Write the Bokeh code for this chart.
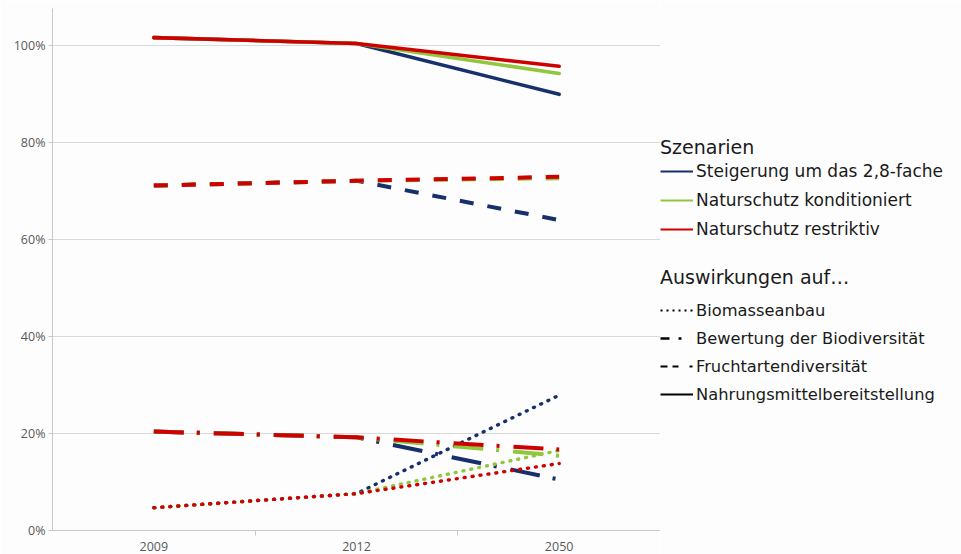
from bokeh.plotting import figure
from bokeh.layouts import row
from bokeh.models import (Range1d, FixedTicker, PrintfTickFormatter, Legend, LegendItem)
from bokeh.embed import file_html
from bokeh.resources import INLINE

# ---- data ----
years = ["2009", "2012", "2050"]
scenarios = ["Steigerung um das 2,8-fache", "Naturschutz konditioniert", "Naturschutz restriktiv"]
scenario_colors = ["#17306b", "#8fc73e", "#cf0000"]
effects = ["Biomasseanbau", "Bewertung der Biodiversität", "Fruchtartendiversität",
           "Nahrungsmittelbereitstellung"]

# values in percent, per scenario [2009, 2012, 2050]
biomasse_steigerung = [4.7, 7.6, 27.9]
biomasse_konditioniert = [4.7, 7.6, 16.5]
biomasse_restriktiv = [4.7, 7.6, 13.8]

biodiv_steigerung = [20.4, 19.2, 10.5]
biodiv_konditioniert = [20.4, 19.2, 15.4]
biodiv_restriktiv = [20.4, 19.2, 16.7]

frucht_steigerung = [71.1, 72.1, 64.0]
frucht_konditioniert = [71.1, 72.1, 72.6]
frucht_restriktiv = [71.1, 72.1, 72.9]

nahrung_steigerung = [101.6, 100.4, 89.9]
nahrung_konditioniert = [101.6, 100.4, 94.2]
nahrung_restriktiv = [101.6, 100.4, 95.7]

y_ticks = [0, 20, 40, 60, 80, 100]

series = {
    "Biomasseanbau": [biomasse_steigerung, biomasse_konditioniert, biomasse_restriktiv],
    "Bewertung der Biodiversität": [biodiv_steigerung, biodiv_konditioniert, biodiv_restriktiv],
    "Fruchtartendiversität": [frucht_steigerung, frucht_konditioniert, frucht_restriktiv],
    "Nahrungsmittelbereitstellung": [nahrung_steigerung, nahrung_konditioniert, nahrung_restriktiv],
}

styles = {
    "Biomasseanbau": dict(line_dash="1 7", line_cap="round", line_width=3.4),
    "Bewertung der Biodiversität": dict(line_dash="30 13 3 14", line_cap="butt", line_width=4),
    "Fruchtartendiversität": dict(line_dash="14 14", line_cap="butt", line_width=4),
    "Nahrungsmittelbereitstellung": dict(line_dash="solid", line_cap="round", line_width=3.6),
}
legend_styles = {
    "Biomasseanbau": dict(line_dash="2 4", line_width=1.8),
    "Bewertung der Biodiversität": dict(line_dash="9 9 3 100", line_width=2.5),
    "Fruchtartendiversität": dict(line_dash="7 5 6 11 3 100", line_width=2),
    "Nahrungsmittelbereitstellung": dict(line_dash="solid", line_width=2),
}

FONT = "Open Sans"
LFONT = "DejaVu Sans"
BG = "#fdfdfd"
xpos = [i + 0.5 for i in range(len(years))]

p = figure(width=660, height=554, output_backend="svg", toolbar_location=None,
           x_range=Range1d(0, len(years)), y_range=Range1d(0, 107.6),
           min_border_left=52, min_border_right=0, min_border_top=8, min_border_bottom=24)
p.outline_line_color = None
p.background_fill_color = BG
p.border_fill_color = BG

# grid
p.xgrid.grid_line_color = None
p.ygrid.grid_line_color = "#d9d9d9"
p.ygrid.grid_line_width = 1

# y axis
p.yaxis.ticker = FixedTicker(ticks=y_ticks, minor_ticks=[])
p.yaxis.formatter = PrintfTickFormatter(format="%d%%")
p.yaxis.axis_line_color = "#c8c8c8"
p.yaxis.major_tick_line_color = "#c8c8c8"
p.yaxis.major_tick_out = 4
p.yaxis.major_tick_in = 0
p.yaxis.minor_tick_line_color = None
p.yaxis.major_label_standoff = 3
p.yaxis.major_label_text_font = FONT
p.yaxis.major_label_text_font_size = "12.5px"
p.yaxis.major_label_text_color = "#595959"

# x axis
p.xaxis.ticker = FixedTicker(ticks=xpos, minor_ticks=list(range(1, len(years))))
p.xaxis.major_label_overrides = {x: y for x, y in zip(xpos, years)}
p.xaxis.axis_line_color = "#c8c8c8"
p.xaxis.major_tick_line_color = None
p.xaxis.major_tick_out = 0
p.xaxis.minor_tick_line_color = "#c8c8c8"
p.xaxis.minor_tick_out = 5
p.xaxis.minor_tick_in = 0
p.xaxis.major_label_standoff = 6
p.xaxis.major_label_text_font = FONT
p.xaxis.major_label_text_font_size = "12.5px"
p.xaxis.major_label_text_color = "#595959"

# data lines: drawn scenario by scenario so red ends on top
for si, color in enumerate(scenario_colors):
    for eff in effects:
        p.line(xpos, series[eff][si], line_color=color, **styles[eff])

# ---- legend panel (separate figure so the legends are not clipped) ----
q = figure(width=301, height=554, output_backend="svg", toolbar_location=None,
           x_range=Range1d(0, 1), y_range=Range1d(0, 1),
           x_axis_location=None, y_axis_location=None,
           min_border_left=0, min_border_right=0, min_border_top=0, min_border_bottom=0)
q.outline_line_color = None
q.background_fill_color = BG
q.border_fill_color = BG
q.xgrid.visible = False
q.ygrid.visible = False

# legend sample renderers: their (off-range) points are never visible in the panel
off_x = [-10, -9]
off_y = [-10, -9]
scen_items = []
for name, color in zip(scenarios, scenario_colors):
    r = q.line(off_x, off_y, line_color=color, line_width=2)
    scen_items.append(LegendItem(label=name, renderers=[r]))
eff_items = []
for eff in effects:
    r = q.line(off_x, off_y, line_color="#000000", **legend_styles[eff])
    eff_items.append(LegendItem(label=eff, renderers=[r]))


def style_legend(lg, title, label_size, row_h, spacing, standoff):
    lg.title = title
    lg.title_text_font = LFONT
    lg.title_text_font_size = "19px"
    lg.title_text_font_style = "normal"
    lg.title_text_color = "#1a1a1a"
    lg.title_standoff = standoff
    lg.label_text_font = LFONT
    lg.label_text_font_size = label_size
    lg.label_text_color = "#1a1a1a"
    lg.label_height = row_h
    lg.glyph_height = row_h
    lg.glyph_width = 33
    lg.label_standoff = 3
    lg.spacing = spacing
    lg.padding = 0
    lg.margin = 0
    lg.background_fill_alpha = 0
    lg.border_line_color = None


leg1 = Legend(items=scen_items, location=(0, 288))
style_legend(leg1, "Szenarien", "17px", 26, 3, 0)
leg2 = Legend(items=eff_items, location=(0, 124))
style_legend(leg2, "Auswirkungen auf…", "16.3px", 24, 4, 10)
q.add_layout(leg1, "center")
q.add_layout(leg2, "center")

layout = row(p, q, spacing=0)
open("out.html", "w").write(file_html(layout, INLINE))
